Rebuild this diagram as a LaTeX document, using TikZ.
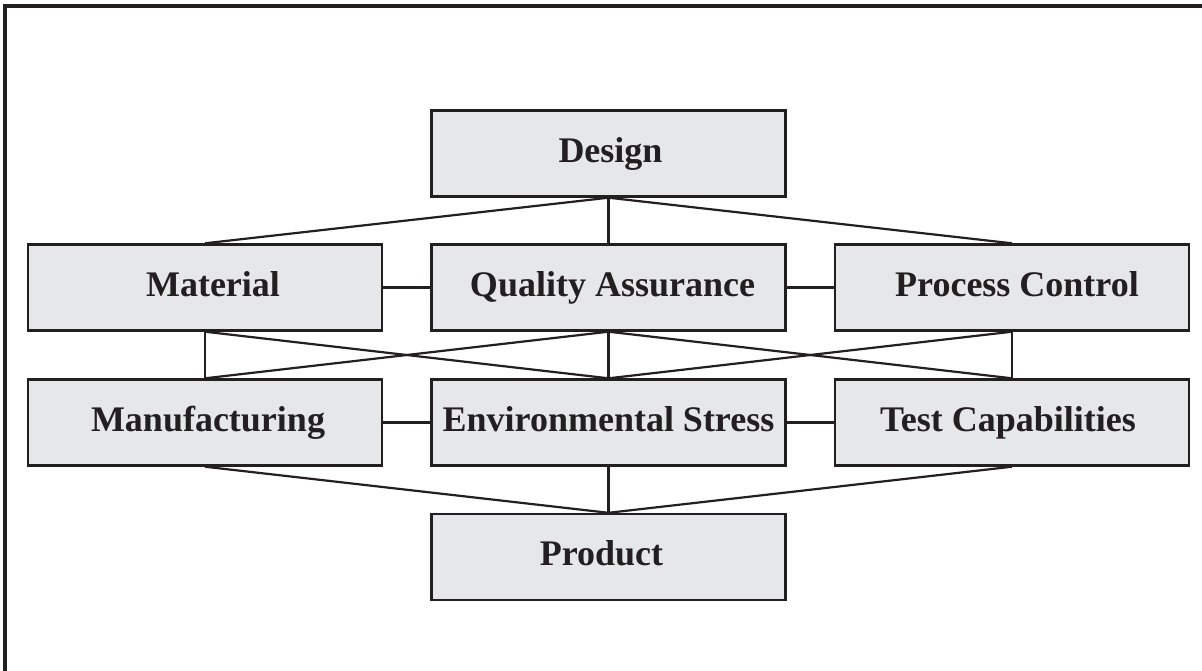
\documentclass[tikz,border=0pt]{standalone}
\usepackage{fontspec}
\setmainfont{Liberation Serif}
\definecolor{ink}{HTML}{231F20}
\definecolor{boxfill}{HTML}{E6E7E8}
\newcommand{\shiftR}[1]{\hspace*{#1}}
\newcommand{\shiftL}[1]{\hspace*{#1}}
\begin{document}
\begin{tikzpicture}[x=1pt,y=-1pt,
  blk/.style={draw=ink, fill=boxfill, line width=2.4pt, rectangle,
    minimum width=354pt, minimum height=86pt, inner sep=0pt,
    text=ink, font=\fontsize{36}{40}\selectfont\bfseries,
    text height=25pt, text depth=8pt},
  link/.style={draw=ink, line width=2.2pt}]
\useasboundingbox (0,0) rectangle (1202,670);
\fill[white] (0,0) rectangle (1202,670);
\draw[ink, line width=4pt] (5,672) -- (5,6) -- (1210,6);

\node[blk] (des) at (608.5,153.5) {\shiftR{4pt}Design};
\node[blk] (mat) at (205,287.5) {\shiftR{16pt}Material};
\node[blk] (qa)  at (608.5,287.5) {\shiftR{8pt}Quality Assurance};
\node[blk] (pc)  at (1012,287.5) {\shiftR{10pt}Process Control};
\node[blk] (man) at (205,422.5) {\shiftR{6pt}Manufacturing};
\node[blk] (env) at (608.5,422.5) {Environmental Stress};
\node[blk] (tc)  at (1012,422.5) {Test Capabilities\shiftL{8pt}};
\node[blk] (pro) at (608.5,557) {Product\shiftL{14pt}};

\draw[link] (des.south) -- (mat.north);
\draw[link] (des.south) -- (qa.north);
\draw[link] (des.south) -- (pc.north);

\draw[link] (mat.east) -- (qa.west);
\draw[link] (qa.east) -- (pc.west);

\draw[link] (mat.south) -- (man.north);
\draw[link] (mat.south) -- (env.north);
\draw[link] (qa.south) -- (man.north);
\draw[link] (qa.south) -- (env.north);
\draw[link] (qa.south) -- (tc.north);
\draw[link] (pc.south) -- (env.north);
\draw[link] (pc.south) -- (tc.north);

\draw[link] (man.east) -- (env.west);
\draw[link] (env.east) -- (tc.west);

\draw[link] (man.south) -- (pro.north);
\draw[link] (env.south) -- (pro.north);
\draw[link] (tc.south) -- (pro.north);
\end{tikzpicture}
\end{document}
